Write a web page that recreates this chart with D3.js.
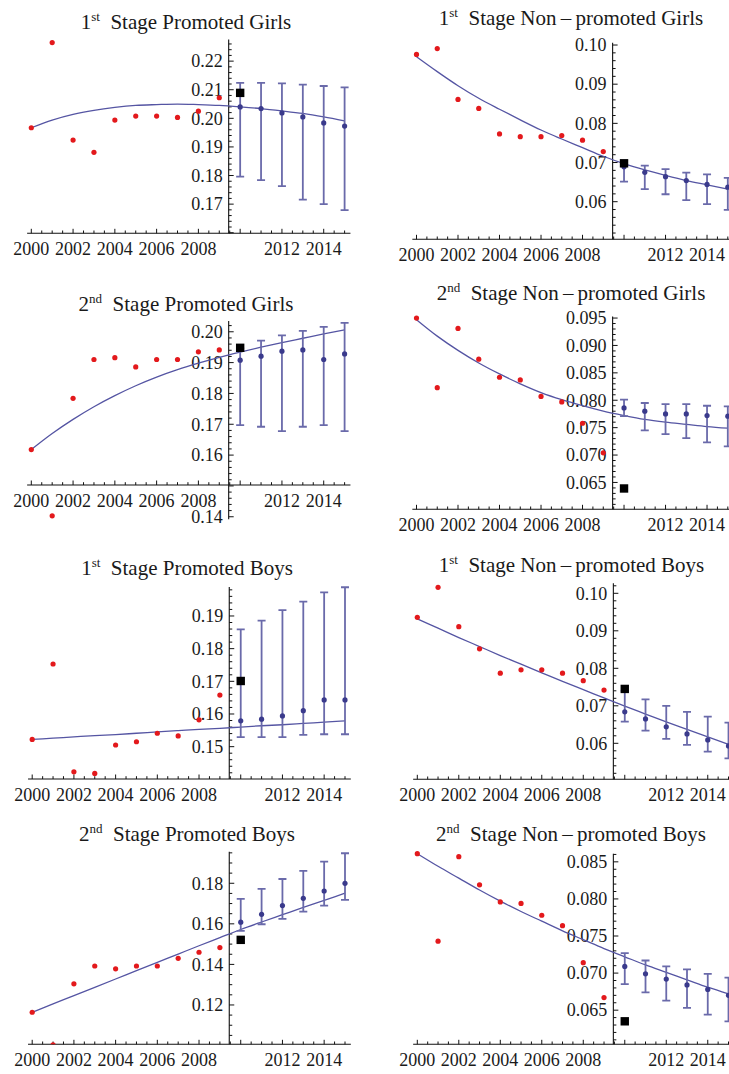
<!DOCTYPE html>
<html><head><meta charset="utf-8">
<script src="https://cdn.jsdelivr.net/npm/d3@7"></script>
<style>body{margin:0;background:#fff}svg{display:block}
svg text{font-family:"Liberation Serif","LiberationSerif","Tinos","Times New Roman","Times","Nimbus Roman","Nimbus Roman No9 L","FreeSerif","DejaVu Serif","Noto Serif",serif;}
</style>
</head><body>
<svg id="chart" width="729" height="1074"></svg>
<script>
// ---------- data ----------
const histYears = [2000,2001,2002,2003,2004,2005,2006,2007,2008,2009];
const foreYears = [2010,2011,2012,2013,2014,2015];
const fitYears  = [2000,2001,2002,2003,2004,2005,2006,2007,2008,2009,2010,2011,2012,2013,2014,2015];
const xTickLabels = [2000,2002,2004,2006,2008,2012,2014];
const actualYear = 2010;

const titleOrdinals = ["1","1","2","2","1","1","2","2"];
const titleSuffixes = ["st","st","nd","nd","st","st","nd","nd"];
const titleTexts = ["Stage Promoted Girls","Stage Non\u2009\u2013\u2009promoted Girls",
  "Stage Promoted Girls","Stage Non\u2009\u2013\u2009promoted Girls",
  "Stage Promoted Boys","Stage Non\u2009\u2013\u2009promoted Boys",
  "Stage Promoted Boys","Stage Non\u2009\u2013\u2009promoted Boys"];

// 1st Stage Promoted Girls
const p1Observed = [0.1967,0.2265,0.1924,0.1881,0.1994,0.2008,0.2008,0.2003,0.2025,0.2072];
const p1Actual = 0.2089;
const p1Mean  = [0.2040,0.2034,0.2019,0.2005,0.1984,0.1973];
const p1Upper = [0.2124,0.2124,0.2122,0.2118,0.2113,0.2108];
const p1Lower = [0.1796,0.1784,0.1763,0.1716,0.1700,0.1679];
const p1Fit = [0.1967,0.1994,0.2014,0.2028,0.2038,0.2045,0.2048,0.2050,0.2048,0.2045,0.2040,0.2034,0.2026,0.2017,0.2005,0.1991];
const p1YTicks = [0.17,0.18,0.19,0.20,0.21,0.22];

// 1st Stage Non-promoted Girls
const p2Observed = [0.0976,0.0991,0.0861,0.0838,0.0773,0.0766,0.0766,0.0769,0.0757,0.0728];
const p2Actual = 0.0698;
const p2Mean  = [0.0689,0.0675,0.0664,0.0654,0.0644,0.0637];
const p2Upper = [0.0705,0.0692,0.0683,0.0674,0.0670,0.0661];
const p2Lower = [0.0651,0.0632,0.0619,0.0604,0.0594,0.0579];
const p2Fit = [0.0970,0.0932,0.0896,0.0864,0.0836,0.0809,0.0783,0.0760,0.0738,0.0716,0.0697,0.0681,0.0667,0.0654,0.0643,0.0632];
const p2YTicks = [0.06,0.07,0.08,0.09,0.10];

// 2nd Stage Promoted Girls
const p3Observed = [0.1618,0.1403,0.1784,0.1910,0.1916,0.1886,0.1910,0.1910,0.1935,0.1941];
const p3Actual = 0.1948;
const p3Mean  = [0.1908,0.1921,0.1937,0.1941,0.1910,0.1928];
const p3Upper = [0.1946,0.1971,0.1988,0.2003,0.2016,0.2029];
const p3Lower = [0.1697,0.1692,0.1678,0.1692,0.1697,0.1678];
const p3Fit = [0.1618,0.1670,0.1716,0.1757,0.1793,0.1825,0.1853,0.1877,0.1898,0.1917,0.1934,0.1950,0.1965,0.1979,0.1993,0.2006];
const p3YTicks = [0.14,0.16,0.17,0.18,0.19,0.20];

// 2nd Stage Non-promoted Girls
const p4Observed = [0.0950,0.0823,0.0931,0.0875,0.0842,0.0837,0.0807,0.0797,0.0758,0.0704];
const p4Actual = 0.0639;
const p4Mean  = [0.0786,0.0780,0.0775,0.0775,0.0772,0.0771];
const p4Upper = [0.0801,0.0795,0.0793,0.0793,0.0790,0.0789];
const p4Lower = [0.0771,0.0745,0.0738,0.0731,0.0723,0.0716];
const p4Fit = [0.0947,0.0917,0.0891,0.0868,0.0848,0.0830,0.0814,0.0801,0.0790,0.0780,0.0772,0.0765,0.0760,0.0756,0.0752,0.0749];
const p4YTicks = [0.065,0.070,0.075,0.080,0.085,0.090,0.095];

// 1st Stage Promoted Boys
const p5Observed = [0.1522,0.1753,0.1423,0.1418,0.1505,0.1515,0.1541,0.1533,0.1582,0.1658];
const p5Actual = 0.1701;
const p5Mean  = [0.1579,0.1584,0.1594,0.1610,0.1643,0.1643];
const p5Upper = [0.1859,0.1886,0.1918,0.1944,0.1972,0.1988];
const p5Lower = [0.1529,0.1529,0.1529,0.1536,0.1538,0.1538];
const p5Fit = [0.1522,0.1526,0.1530,0.1534,0.1537,0.1541,0.1545,0.1549,0.1553,0.1556,0.1560,0.1564,0.1567,0.1571,0.1575,0.1579];
const p5YTicks = [0.15,0.16,0.17,0.18,0.19];

// 1st Stage Non-promoted Boys
const p6Observed = [0.0936,0.1016,0.0911,0.0852,0.0787,0.0796,0.0796,0.0787,0.0767,0.0742];
const p6Actual = 0.0745;
const p6Mean  = [0.0684,0.0665,0.0644,0.0625,0.0609,0.0593];
const p6Upper = [0.0740,0.0717,0.0700,0.0684,0.0671,0.0655];
const p6Lower = [0.0658,0.0634,0.0612,0.0596,0.0578,0.0560];
const p6Fit = [0.0932,0.0907,0.0882,0.0858,0.0834,0.0811,0.0788,0.0765,0.0743,0.0721,0.0699,0.0678,0.0657,0.0637,0.0617,0.0597];
const p6YTicks = [0.06,0.07,0.08,0.09,0.10];

// 2nd Stage Promoted Boys
const p7Observed = [0.1164,0.1003,0.1304,0.1392,0.1378,0.1392,0.1392,0.1430,0.1460,0.1483];
const p7Actual = 0.1521;
const p7Mean  = [0.1608,0.1647,0.1690,0.1726,0.1762,0.1800];
const p7Upper = [0.1723,0.1772,0.1821,0.1861,0.1907,0.1948];
const p7Lower = [0.1565,0.1598,0.1624,0.1660,0.1690,0.1718];
const p7Fit = [0.1164,0.1205,0.1246,0.1287,0.1328,0.1369,0.1410,0.1451,0.1492,0.1532,0.1572,0.1609,0.1645,0.1681,0.1716,0.1751];
const p7YTicks = [0.12,0.14,0.16,0.18];

// 2nd Stage Non-promoted Boys
const p8Observed = [0.0861,0.0743,0.0857,0.0819,0.0796,0.0794,0.0778,0.0764,0.0714,0.0667];
const p8Actual = 0.0635;
const p8Mean  = [0.0709,0.0699,0.0692,0.0684,0.0678,0.0670];
const p8Upper = [0.0727,0.0717,0.0709,0.0705,0.0699,0.0694];
const p8Lower = [0.0685,0.0674,0.0663,0.0653,0.0644,0.0635];
const p8Fit = [0.0861,0.0844,0.0828,0.0812,0.0797,0.0783,0.0770,0.0757,0.0745,0.0733,0.0722,0.0711,0.0701,0.0691,0.0681,0.0672];
const p8YTicks = [0.065,0.070,0.075,0.080,0.085];

// ---------- layout (positions only) ----------
const layout = [
  {x2000:31.3, x2015:344.6, axisY:233.3, yAxisVal:0.1598, pxPer:2860, yTop:0.2276, yBot:0.1598, tx:186, ty:29,  minor:0.002, dec:2},
  {x2000:416.5,x2015:727.8, axisY:239.3, yAxisVal:0.0504, pxPer:3917, yTop:0.1006, yBot:0.0504, tx:571, ty:25,  minor:0.002, dec:2},
  {x2000:31.3, x2015:344.6, axisY:485,   yAxisVal:0.1503, pxPer:3083, yTop:0.2035, yBot:0.1392, tx:186, ty:310.5,minor:0.002, dec:2},
  {x2000:416.5,x2015:727.8, axisY:509.3, yAxisVal:0.0601, pxPer:5480, yTop:0.0953, yBot:0.0601, tx:571, ty:300, minor:0.001, dec:3},
  {x2000:32.2, x2015:345,   axisY:779,   yAxisVal:0.1401, pxPer:3267, yTop:0.1989, yBot:0.1401, tx:187, ty:575, minor:0.002, dec:2},
  {x2000:417.3,x2015:728.5, axisY:779.3, yAxisVal:0.0504, pxPer:3750, yTop:0.1027, yBot:0.0504, tx:571.5,ty:572.3,minor:0.002,dec:2},
  {x2000:32.2, x2015:345,   axisY:1044.3,yAxisVal:0.1006, pxPer:2028, yTop:0.1956, yBot:0.1006, tx:187, ty:841, minor:0.005, dec:2},
  {x2000:417.3,x2015:728.5, axisY:1044.3,yAxisVal:0.0604, pxPer:7417, yTop:0.0861, yBot:0.0604, tx:571, ty:841, minor:0.001, dec:3}
];

const panelData = [
  {obs:p1Observed, act:p1Actual, mean:p1Mean, up:p1Upper, lo:p1Lower, fit:p1Fit, yt:p1YTicks},
  {obs:p2Observed, act:p2Actual, mean:p2Mean, up:p2Upper, lo:p2Lower, fit:p2Fit, yt:p2YTicks},
  {obs:p3Observed, act:p3Actual, mean:p3Mean, up:p3Upper, lo:p3Lower, fit:p3Fit, yt:p3YTicks},
  {obs:p4Observed, act:p4Actual, mean:p4Mean, up:p4Upper, lo:p4Lower, fit:p4Fit, yt:p4YTicks},
  {obs:p5Observed, act:p5Actual, mean:p5Mean, up:p5Upper, lo:p5Lower, fit:p5Fit, yt:p5YTicks},
  {obs:p6Observed, act:p6Actual, mean:p6Mean, up:p6Upper, lo:p6Lower, fit:p6Fit, yt:p6YTicks},
  {obs:p7Observed, act:p7Actual, mean:p7Mean, up:p7Upper, lo:p7Lower, fit:p7Fit, yt:p7YTicks},
  {obs:p8Observed, act:p8Actual, mean:p8Mean, up:p8Upper, lo:p8Lower, fit:p8Fit, yt:p8YTicks}
];

// ---------- drawing ----------
const svg = d3.select("#chart");
const TEXT = "#1a1a1a";
const RED = "#e3191c";
const FIT = "#5555a3";
const BAR = "#6a6aaa";
const MEAN = "#3a3a8c";
const AXIS_CROSS = 2009.45;

layout.forEach((L, i) => {
  const d = panelData[i];
  const g = svg.append("g");
  const x = d3.scaleLinear().domain([2000, 2015]).range([L.x2000, L.x2015]);
  const y = d3.scaleLinear().domain([L.yAxisVal, L.yTop])
              .range([L.axisY, L.axisY - (L.yTop - L.yAxisVal) * L.pxPer]);
  const ax = x(AXIS_CROSS);

  const cid = "clip" + i;
  svg.append("clipPath").attr("id", cid).append("rect")
    .attr("x", x(1999.7)).attr("y", y(L.yTop) - 12)
    .attr("width", x(2015.4) - x(1999.7))
    .attr("height", y(L.yBot) - y(L.yTop) + 12);

  // title
  const t = g.append("text").attr("x", L.tx).attr("y", L.ty)
    .attr("text-anchor", "middle")
    .attr("font-size", 21).attr("fill", TEXT);
  t.append("tspan").text(titleOrdinals[i]);
  t.append("tspan").attr("font-size", 13).attr("dy", -8).text(titleSuffixes[i]);
  t.append("tspan").attr("dy", 8).text("\u2002" + titleTexts[i]);

  // x axis
  const axG = g.append("g").attr("stroke", "#111").attr("fill", "none");
  axG.append("line").attr("x1", x(1999.8)).attr("x2", x(2015.28))
     .attr("y1", L.axisY).attr("y2", L.axisY).attr("stroke-width", 1.1);
  const xMinor = d3.range(0, 31).map(k => 2000 + k * 0.5);
  axG.selectAll(".xt").data(xMinor).enter().append("line")
     .attr("x1", v => x(v)).attr("x2", v => x(v))
     .attr("y1", L.axisY)
     .attr("y2", v => L.axisY - (v % 2 === 0 ? 4.5 : 2.8))
     .attr("stroke-width", 1);
  g.selectAll(".xl").data(xTickLabels).enter().append("text")
     .attr("x", v => x(v)).attr("y", L.axisY + 21.5)
     .attr("text-anchor", "middle")
     .attr("font-size", 18).attr("fill", TEXT).text(v => v);

  // y axis
  axG.append("line").attr("x1", ax).attr("x2", ax)
     .attr("y1", y(L.yBot)).attr("y2", y(L.yTop)).attr("stroke-width", 1.1);
  const lo = Math.ceil(L.yBot / L.minor - 1e-6), hi = Math.floor(L.yTop / L.minor + 1e-6);
  const yMinor = d3.range(lo, hi + 1).map(k => k * L.minor);
  const majorStep = L.minor * (L.minor === 0.005 ? 4 : 5);
  axG.selectAll(".yt").data(yMinor).enter().append("line")
     .attr("x1", ax)
     .attr("x2", v => ax + (Math.abs(v / majorStep - Math.round(v / majorStep)) < 1e-6 ? 5 : 3))
     .attr("y1", v => y(v)).attr("y2", v => y(v)).attr("stroke-width", 1);
  g.selectAll(".yl").data(d.yt).enter().append("text")
     .attr("x", ax - 6).attr("y", v => y(v)).attr("dy", "0.35em")
     .attr("text-anchor", "end")
     .attr("font-size", 18).attr("fill", TEXT).text(v => v.toFixed(L.dec));

  // data layer
  const dg = g.append("g").attr("clip-path", `url(#${cid})`);
  const line = d3.line().x((v, k) => x(fitYears[k])).y(v => y(v)).curve(d3.curveMonotoneX);
  dg.append("path").attr("d", line(d.fit)).attr("fill", "none")
    .attr("stroke", FIT).attr("stroke-width", 1.3);

  const bars = dg.append("g").attr("stroke", BAR).attr("stroke-width", 1.8);
  foreYears.forEach((yr, k) => {
    bars.append("line").attr("x1", x(yr)).attr("x2", x(yr))
      .attr("y1", y(d.lo[k])).attr("y2", y(d.up[k]));
    [d.lo[k], d.up[k]].forEach(v => bars.append("line")
      .attr("x1", x(yr) - 4).attr("x2", x(yr) + 4)
      .attr("y1", y(v)).attr("y2", y(v)));
  });
  dg.selectAll(".m").data(d.mean).enter().append("circle")
    .attr("cx", (v, k) => x(foreYears[k])).attr("cy", v => y(v))
    .attr("r", 2.6).attr("fill", MEAN);
  dg.selectAll(".o").data(d.obs).enter().append("circle")
    .attr("cx", (v, k) => x(histYears[k])).attr("cy", v => y(v))
    .attr("r", 2.6).attr("fill", RED);
  dg.append("rect").attr("x", x(actualYear) - 4.2).attr("y", y(d.act) - 4.2)
    .attr("width", 8.4).attr("height", 8.4).attr("fill", "#000");
});
</script>
</body></html>
